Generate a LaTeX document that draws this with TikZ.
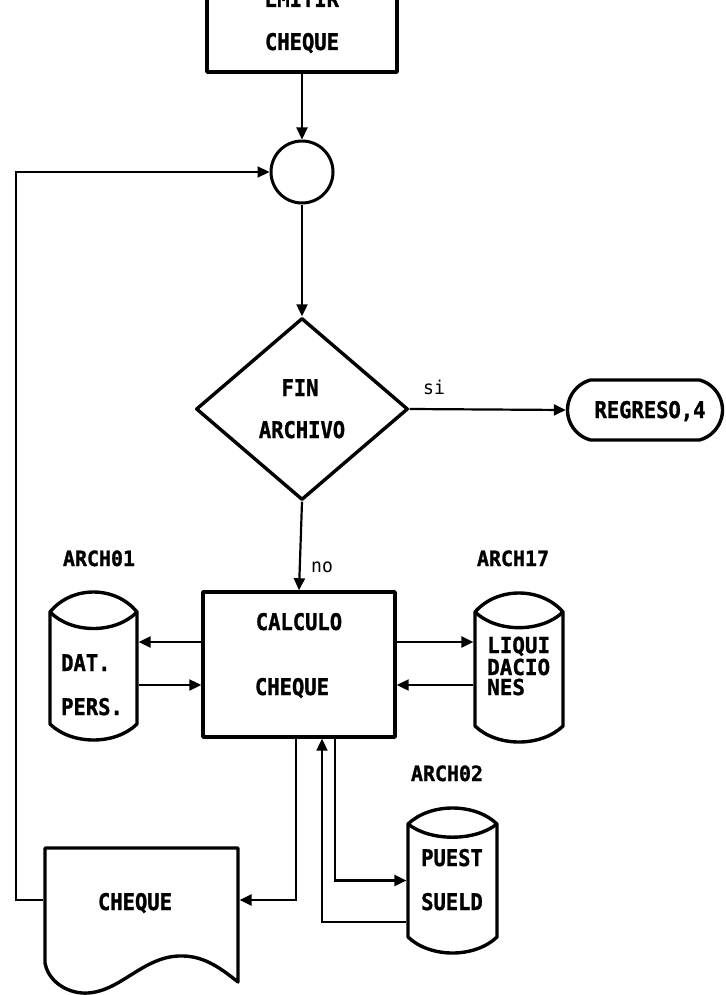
\documentclass[tikz,border=0pt]{standalone}
\usepackage{fontspec}
\newfontfamily\dmfont{DejaVu Sans Mono}[FakeStretch=0.89, BoldFeatures={FakeBold=1.2}]
\newfontfamily\dmsmall{DejaVu Sans Mono}[FakeStretch=0.95, BoldFeatures={FakeBold=1.2}]
\usetikzlibrary{shapes.geometric,shapes.misc,arrows.meta,fit}
% cylinder: #1 name, #2 L, #3 R, #4 T, #5 B, #6 lens rise
\newcommand\cyl[6]{%
  \coordinate (#1-nw) at (#2,#4);
  \coordinate (#1-se) at (#3,#5);
  \node[fit=(#1-nw)(#1-se), inner sep=0, outer sep=1.6pt] (#1) {};
  \draw[shp] (#2,#4+#6) .. controls ({#2+0.25*(#3-#2)},{#4-#6/3}) and ({#3-0.25*(#3-#2)},{#4-#6/3}) .. (#3,#4+#6)
     -- (#3,#5-16) .. controls ({#3-0.25*(#3-#2)},{#5+16/3}) and ({#2+0.25*(#3-#2)},{#5+16/3}) .. (#2,#5-16) -- cycle;
  \draw[shp] (#3,#4+#6) .. controls ({#3-0.25*(#3-#2)},{#4+#6+#6*1.1}) and ({#2+0.25*(#3-#2)},{#4+#6+#6*1.1}) .. (#2,#4+#6);
}
\begin{document}
\begin{tikzpicture}[x=1pt,y=-1pt,
  shp/.style={draw, line width=3.4pt, line join=round},
  con/.style={draw, line width=2.2pt},
  arr/.style={con, -{Triangle[length=12pt,width=11pt]}},
  txt/.style={font=\dmfont\bfseries\fontsize{23}{23}\selectfont, inner sep=0, anchor=base},
  stxt/.style={font=\dmsmall\bfseries\fontsize{21}{21}\selectfont, inner sep=0, anchor=base},
  ltxt/.style={font=\dmsmall\bfseries\fontsize{22}{22}\selectfont, inner sep=0, anchor=base west},
  lbl/.style={font=\dmsmall\fontsize{19}{19}\selectfont, inner sep=0, anchor=base}]
\useasboundingbox (0,0) rectangle (725,995);
\clip (0,0) rectangle (725,995);
\fill[white] (0,0) rectangle (725,995);

% shapes
\node[shp, rectangle, minimum width=190pt, minimum height=132pt, inner sep=0] (emitir) at (302,6) {};
\node[shp, circle, minimum size=62pt, inner sep=0, line width=3pt] (circ) at (302,172) {};
\node[shp, diamond, minimum width=212pt, minimum height=182pt, inner sep=0] (dia) at (302,409) {};
\node[shp, rounded rectangle, rounded rectangle arc length=150, minimum width=155pt, minimum height=60pt, inner sep=0] (reg) at (645,410) {};
\node[shp, rectangle, minimum width=192pt, minimum height=145pt, inner sep=0] (calc) at (299,664.5) {};
\cyl{dat}{50}{137}{592}{740}{20}
\cyl{liq}{475}{563}{593}{742}{19}
\cyl{pue}{408}{497}{808}{953}{16}
\coordinate (doc-nw) at (45,848);
\coordinate (doc-se) at (238,952);
\node[fit=(doc-nw)(doc-se), inner sep=0, outer sep=1.6pt] (doc) {};
\draw[shp] (45,848) -- (238,848) -- (238,982)
  .. controls (218,966) and (202,955) .. (178,956)
  .. controls (140,958) and (118,995) .. (82,993)
  .. controls (60,991) and (47,976) .. (45,963) -- cycle;

% texts
\node[txt] (t1) at (302,7) {EMITIR};
\node[txt] (t2) at (302,50) {CHEQUE};
\node[txt] (t3) at (300,396) {FIN};
\node[txt] (t4) at (302,438) {ARCHIVO};
\node[txt] (t5) at (650,418) {REGRESO,4};
\node[txt] (t6) at (299,630) {CALCULO};
\node[txt] (t7) at (292,695) {CHEQUE};
\node[txt, anchor=base west] (t8) at (61,671) {DAT.};
\node[txt, anchor=base west] (t9) at (61,715) {PERS.};
\node[stxt] (a1) at (99,566) {ARCH01};
\node[stxt] (a17) at (513,566) {ARCH17};
\node[stxt] (a2) at (447,781) {ARCH02};
\node[ltxt] (l1) at (487,653) {LIQUI};
\node[ltxt] (l2) at (487,675) {DACIO};
\node[ltxt] (l3) at (487,695) {NES};
\node[txt] (p1) at (452,866) {PUEST};
\node[txt] (p2) at (452,910) {SUELD};
\node[txt] (d1) at (135,910) {CHEQUE};
\node[lbl] (si) at (434,394) {si};
\node[lbl] (no) at (322,572) {no};

% helper coordinates
\coordinate (lp) at (16,500);
\coordinate (ya) at (0,642);
\coordinate (yb) at (0,685);
\coordinate (xa) at (296,0);
\coordinate (xb) at (322,0);
\coordinate (xc) at (335,0);
\coordinate (yd) at (0,922);

% connectors
\draw[arr] (emitir.south) -- (circ.north);
\draw[arr] (doc.west) -| (lp) |- (circ.west);
\draw[arr] (circ.south) -- (dia.north);
\draw[arr] (dia.east) -- (reg.west);
\draw[arr] (dia.south) -- (calc.north);
\draw[arr] (calc.west |- ya) -- (dat.east |- ya);
\draw[arr] (dat.east |- yb) -- (calc.west |- yb);
\draw[arr] (calc.east |- ya) -- (liq.west |- ya);
\draw[arr] (liq.west |- yb) -- (calc.east |- yb);
\draw[arr] (calc.south -| xa) |- (doc.east);
\draw[arr] (calc.south -| xc) |- (pue.west);
\draw[arr] (pue.west |- yd) -| (calc.south -| xb);
\end{tikzpicture}
\end{document}
